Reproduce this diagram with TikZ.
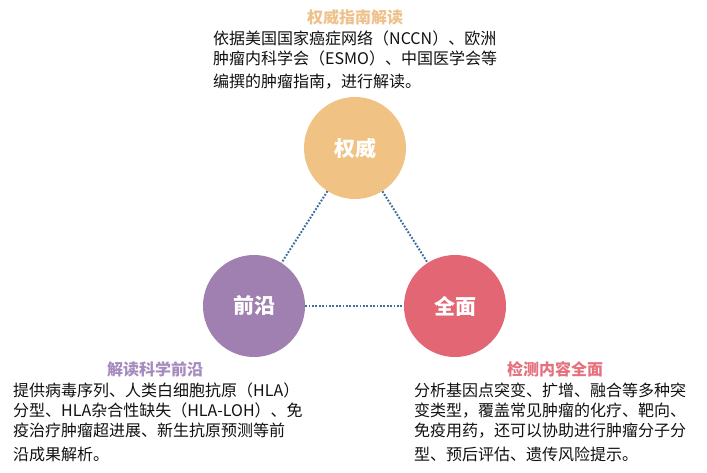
\documentclass[tikz,border=0pt]{standalone}
\usepackage{fontspec}
\setmainfont{Noto Sans CJK SC}
\definecolor{cTop}{HTML}{F0C384}
\definecolor{cLeft}{HTML}{A080B1}
\definecolor{cRight}{HTML}{E36674}
\definecolor{tTop}{HTML}{EFC18A}
\definecolor{tLeft}{HTML}{A68BBE}
\definecolor{tRight}{HTML}{E5707E}
\definecolor{lineBlue}{HTML}{3E6F9C}
\definecolor{bodyText}{HTML}{111111}
\tikzset{
  bubble/.style={circle, minimum size=102pt, inner sep=0pt, text=white,
    font=\fontsize{21}{24}\selectfont\bfseries},
  title/.style={anchor=base, inner sep=0pt, font=\fontsize{16}{18}\selectfont\bfseries},
  bodyline/.style={anchor=base west, inner sep=0pt, text=bodyText, font=\fontsize{16}{20}\selectfont},
  link/.style={draw=lineBlue, line width=2pt, dash pattern=on 1.8pt off 1.6pt}
}
\begin{document}
\begin{tikzpicture}[x=1pt,y=-1pt]
\useasboundingbox[fill=white] (0,0) rectangle (707,473);
% circles
\node[bubble, fill=cTop]   (auth)  at (355,148) {权威};
\node[bubble, fill=cLeft]  (front) at (254,306) {前沿};
\node[bubble, fill=cRight] (full)  at (455,306) {全面};
% connectors
\draw[link] (auth) -- (front);
\draw[link] (auth) -- (full);
\draw[link] (front) -- (full);
% top text
\node[title, text=tTop] (t1) at (355,24) {权威指南解读};
\node[bodyline] (a1) at (213,44.5) {依据美国国家癌症网络（NCCN）、欧洲};
\node[bodyline] (a2) at (213,64.5) {肿瘤内科学会（ESMO）、中国医学会等};
\node[bodyline] (a3) at (213,88) {编撰的肿瘤指南，进行解读。};
% bottom left text
\node[title, text=tLeft] (t2) at (155,375) {解读科学前沿};
\node[bodyline] (b1) at (13,396) {提供病毒序列、人类白细胞抗原（HLA）};
\node[bodyline] (b2) at (13,416) {分型、HLA杂合性缺失（HLA-LOH）、免};
\node[bodyline] (b3) at (13,436) {疫治疗肿瘤超进展、新生抗原预测等前};
\node[bodyline] (b4) at (13,460) {沿成果解析。};
% bottom right text
\node[title, text=tRight] (t3) at (555,375) {检测内容全面};
\node[bodyline] (c1) at (414,396) {分析基因点突变、扩增、融合等多种突};
\node[bodyline] (c2) at (414,416) {变类型，覆盖常见肿瘤的化疗、靶向、};
\node[bodyline] (c3) at (414,436) {免疫用药，还可以协助进行肿瘤分子分};
\node[bodyline] (c4) at (414,460) {型、预后评估、遗传风险提示。};
\end{tikzpicture}
\end{document}
